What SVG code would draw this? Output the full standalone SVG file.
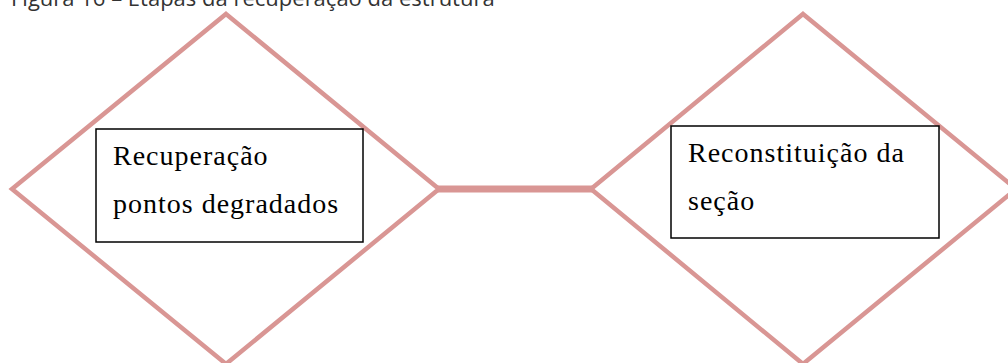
<svg xmlns="http://www.w3.org/2000/svg" width="1008" height="363" viewBox="0 0 1008 363">
<style>
.dia{fill:none;stroke:#d99694;stroke-width:4.5;stroke-linejoin:miter}
.box{fill:#fff;stroke:#000;stroke-width:1.5}
.lbl{font-family:"Liberation Serif","Times New Roman",serif;font-size:28px;letter-spacing:1px;fill:#000}
.title{font-family:"Open Sans","Noto Sans",sans-serif;font-size:22px;fill:#333}
.conn{stroke:#d99694;stroke-width:7;fill:none}
</style>
<rect width="1008" height="363" fill="#fff"/>
<text class="title" x="11" y="6">Figura 16 – Etapas da recuperação da estrutura</text>
<g id="connectors">
<line class="conn" x1="437" y1="189" x2="592" y2="189"/>
</g>
<g id="node1">
<polygon class="dia" points="226,14 439,189 226,364 12,189"/>
<rect class="box" x="96" y="129" width="267" height="113"/>
<text class="lbl" x="113" y="165">Recuperação</text>
<text class="lbl" x="113" y="213">pontos degradados</text>
</g>
<g id="node2">
<polygon class="dia" points="803,14 1016,189 803,364 591,189"/>
<rect class="box" x="671" y="126" width="268" height="112"/>
<text class="lbl" x="688" y="162">Reconstituição da</text>
<text class="lbl" x="688" y="210">seção</text>
</g>
</svg>
